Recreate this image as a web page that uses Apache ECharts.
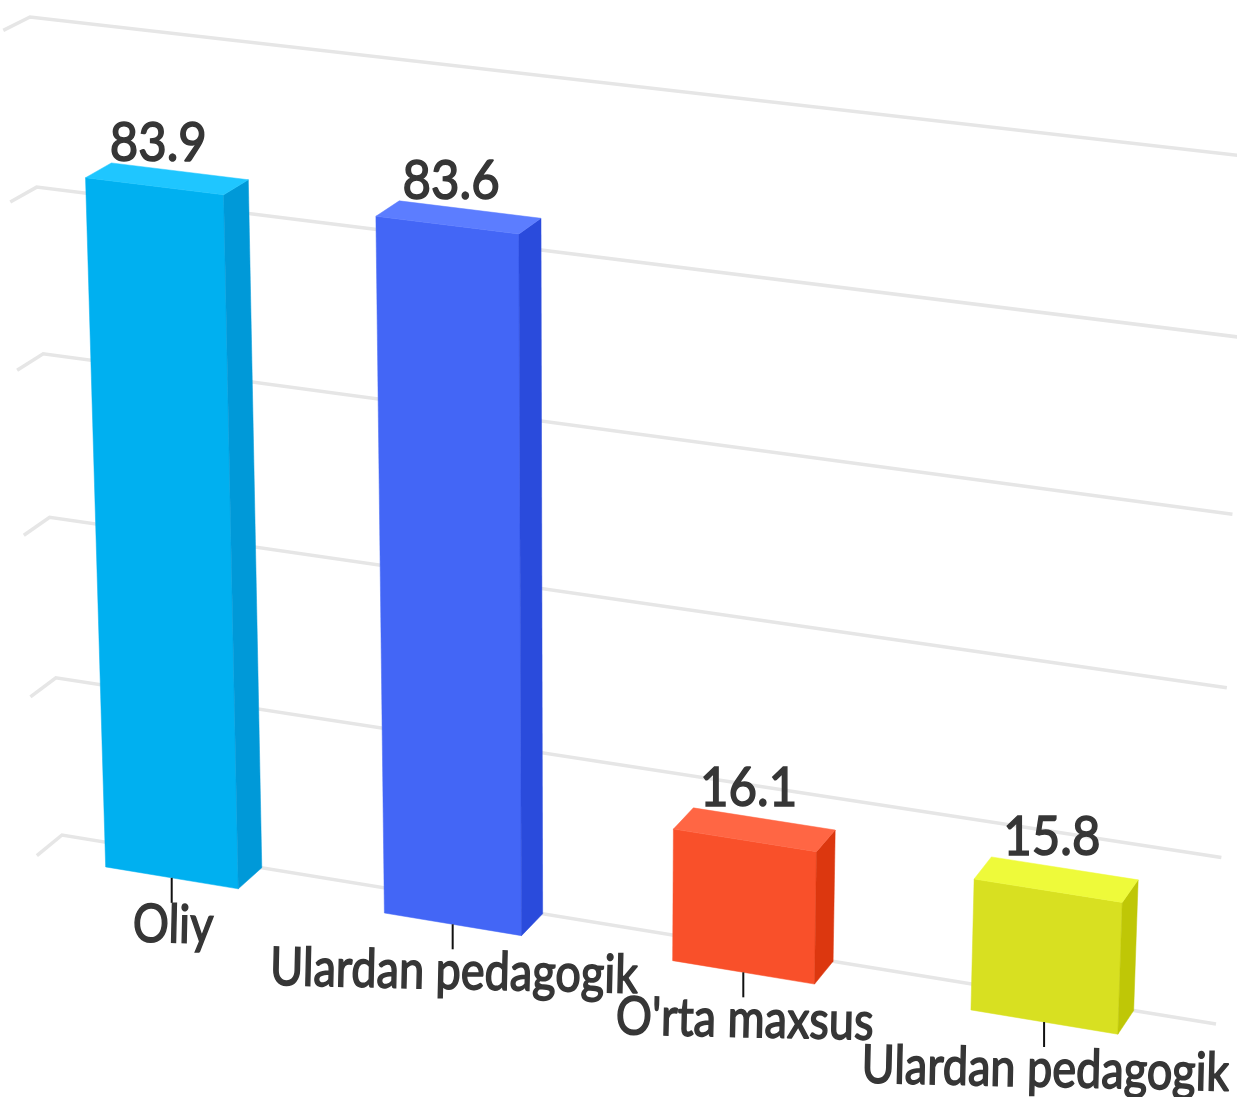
<!DOCTYPE html>
<html>
<head>
<meta charset="utf-8">
<style>
  html, body { margin: 0; padding: 0; background: #fff; }
  #chart { width: 1237px; height: 1097px; }
</style>
<script src="https://cdn.jsdelivr.net/npm/echarts@6/dist/echarts.min.js"></script>
</head>
<body>
<div id="chart"></div>
<script>
const categories = ['Oliy', 'Ulardan pedagogik', "O'rta maxsus", 'Ulardan pedagogik']
const values = [83.9, 83.6, 16.1, 15.8]
const yTicks = [0, 20, 40, 60, 80, 100]

const frontColors = ['#00b0f0', '#4366f6', '#f9502a', '#d8e021']
const sideColors = ['#0099d8', '#2a4bdc', '#dc370f', '#bfc706']
const topColors = ['#1fc6ff', '#5c7dff', '#ff6644', '#eefa3a']

// the back wall of the chart in screen px: (x0,v0) (x1,v0) (x1,v100) (x0,v100)
const wall = [[62, 835], [1216, 1024], [1244, 156], [30, 17]]
const depthVanish = [2682, -1309]
const depth = -0.0095
const barBand = 0.48
const barShift = -0.002
const barLean = 6

const homography = (q) => {
  const dx1 = q[1][0] - q[2][0]
  const dx2 = q[3][0] - q[2][0]
  const sx = q[0][0] - q[1][0] + q[2][0] - q[3][0]
  const dy1 = q[1][1] - q[2][1]
  const dy2 = q[3][1] - q[2][1]
  const sy = q[0][1] - q[1][1] + q[2][1] - q[3][1]
  const den = dx1 * dy2 - dx2 * dy1
  const g = (sx * dy2 - dx2 * sy) / den
  const h = (dx1 * sy - sx * dy1) / den
  return {
    a: q[1][0] - q[0][0] + g * q[1][0],
    b: q[3][0] - q[0][0] + h * q[3][0],
    c: q[0][0],
    d: q[1][1] - q[0][1] + g * q[1][1],
    e: q[3][1] - q[0][1] + h * q[3][1],
    f: q[0][1],
    g,
    h,
  }
}
const H = homography(wall)

// u along the wall (0..1), v up the wall (0..1), z = 0 on the wall, 1 at the front
const project = (u, v, z) => {
  const k = depth * z
  const w = H.g * u + H.h * v + 1 + k
  return [
    (H.a * u + H.b * v + H.c + k * depthVanish[0]) / w,
    (H.d * u + H.e * v + H.f + k * depthVanish[1]) / w,
  ]
}

// bars stand a little more upright than the grid
const projectBar = (u, v, z) => {
  const p = project(u, v, z)
  return [p[0] + barLean * v, p[1]]
}

const toPlane = (params, pt) => {
  const cs = params.coordSys
  return [(pt[0] - cs.x) / cs.width, 1 - (pt[1] - cs.y) / cs.height]
}

const polygon = (points, color) => ({
  type: 'polygon',
  shape: { points },
  style: { fill: color, stroke: color, lineWidth: 0.5 },
})

const renderGridLine = (params, api) => {
  const [, v] = toPlane(params, api.coord([0, api.value(0)]))
  return {
    type: 'polyline',
    shape: { points: [project(0, v, 1), project(0, v, 0), project(1, v, 0)] },
    style: { fill: 'none', stroke: '#e6e6e6', lineWidth: 3.5 },
    silent: true,
  }
}

const renderBar = (params, api) => {
  const i = api.value(0)
  const [c, v] = toPlane(params, api.coord([i, api.value(1)]))
  const half = (api.size([1, 0])[0] / params.coordSys.width) * barBand / 2
  const l = c + barShift - half
  const r = c + barShift + half
  const mid = c + barShift
  const tickTop = projectBar(mid, 0, 1)
  const topMid = projectBar(mid, v, 1)
  const backTop = projectBar(l, v, 0)
  return {
    type: 'group',
    children: [
      polygon([projectBar(l, v, 1), projectBar(r, v, 1), projectBar(r, 0, 1), projectBar(l, 0, 1)], frontColors[i]),
      polygon([projectBar(r, v, 1), projectBar(r, v, 0), projectBar(r, 0, 0), projectBar(r, 0, 1)], sideColors[i]),
      polygon([projectBar(l, v, 0), projectBar(r, v, 0), projectBar(r, v, 1), projectBar(l, v, 1)], topColors[i]),
      {
        type: 'line',
        shape: { x1: tickTop[0], y1: tickTop[1], x2: tickTop[0], y2: tickTop[1] + 25 },
        style: { stroke: '#111', lineWidth: 2 },
      },
      {
        type: 'text',
        x: tickTop[0] + 2,
        y: tickTop[1] + 21,
        rotation: -0.022,
        scaleX: 0.85,
        style: {
          text: categories[i],
          font: '53px Lato',
          fill: '#363636',
          stroke: '#363636',
          lineWidth: 1.6,
          align: 'center',
          verticalAlign: 'top',
        },
      },
      {
        type: 'text',
        x: topMid[0] + 4,
        y: backTop[1] + 8,
        scaleX: 0.91,
        style: {
          text: api.value(1).toFixed(1),
          font: '54px Lato',
          fill: '#363636',
          stroke: '#363636',
          lineWidth: 1.6,
          align: 'center',
          verticalAlign: 'bottom',
        },
      },
    ],
  }
}

const chart = echarts.init(document.getElementById('chart'), null, { renderer: 'canvas' })
chart.setOption({
  animation: false,
  backgroundColor: '#fff',
  grid: { left: 0, right: 0, top: 0, bottom: 0 },
  xAxis: { type: 'category', data: categories.map((c, i) => i), show: false },
  yAxis: { type: 'value', min: 0, max: 100, interval: 20, show: false },
  series: [
    {
      type: 'custom',
      coordinateSystem: 'cartesian2d',
      clip: false,
      z: 1,
      silent: true,
      data: yTicks.map((t) => [t]),
      encode: { y: 0 },
      renderItem: renderGridLine,
    },
    {
      type: 'custom',
      coordinateSystem: 'cartesian2d',
      clip: false,
      z: 2,
      silent: true,
      data: values.map((v, i) => [i, v]),
      encode: { x: 0, y: 1 },
      renderItem: renderBar,
    },
  ],
})
</script>
</body>
</html>
